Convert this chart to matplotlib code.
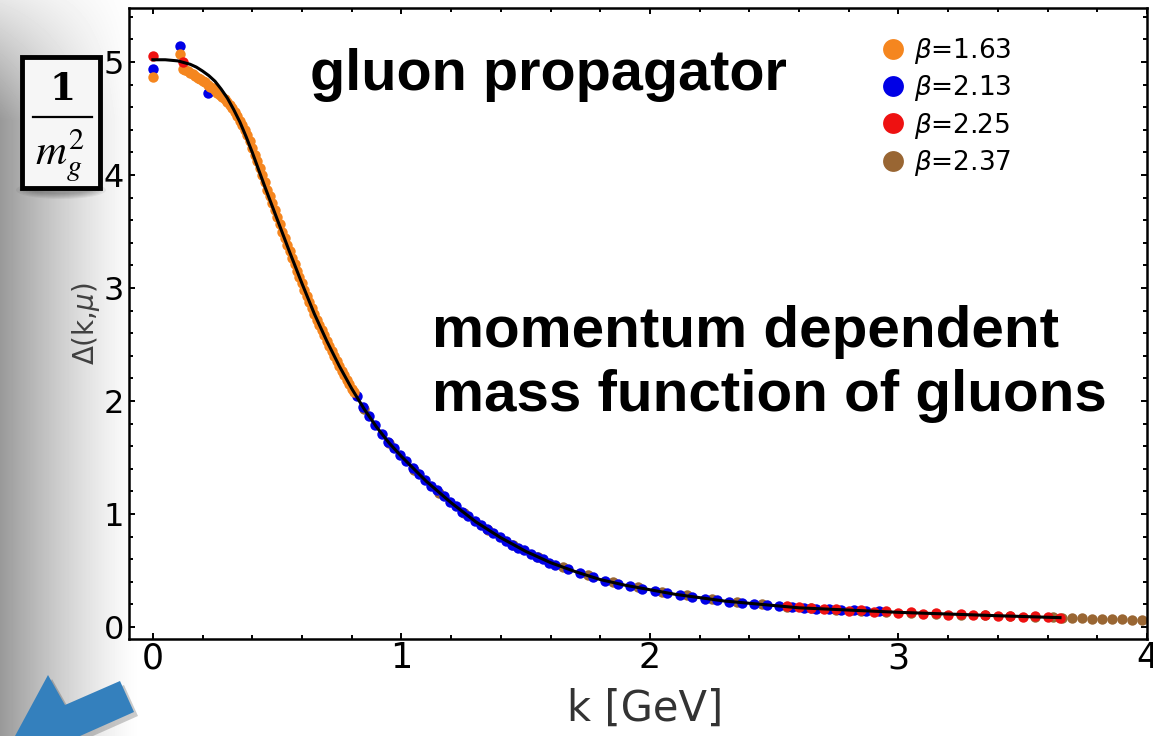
import numpy as np
import matplotlib
matplotlib.use("Agg")
import matplotlib.pyplot as plt
from matplotlib.patches import Rectangle, Polygon, Ellipse
from matplotlib.lines import Line2D
from matplotlib.ticker import MultipleLocator

plt.rcParams['font.family'] = ['DejaVu Sans']
plt.rcParams['mathtext.fontset'] = 'dejavusans'

# ---- fitted curve Delta(k) ----
k_fit = [0.00, 0.05, 0.10, 0.15, 0.175, 0.20, 0.225, 0.25, 0.275, 0.30, 0.325,
         0.35, 0.375, 0.40, 0.425, 0.45, 0.50, 0.55, 0.60, 0.65, 0.70, 0.75,
         0.80, 0.85, 0.90, 0.95, 1.00, 1.05, 1.10, 1.20, 1.30, 1.40, 1.50, 1.60,
         1.70, 1.80, 1.90, 2.00, 2.10, 2.20, 2.30, 2.40, 2.50, 2.60, 2.70, 2.80,
         2.90, 3.00, 3.20, 3.40, 3.65]
D_fit = [5.02, 5.02, 5.01, 4.98, 4.955, 4.92, 4.88, 4.83, 4.76, 4.68, 4.58,
         4.47, 4.34, 4.20, 4.05, 3.90, 3.61, 3.32, 3.04, 2.77, 2.53, 2.31,
         2.11, 1.93, 1.77, 1.63, 1.51, 1.40, 1.29, 1.10, 0.93, 0.79, 0.67, 0.57,
         0.49, 0.42, 0.37, 0.33, 0.29, 0.26, 0.23, 0.21, 0.19, 0.17, 0.16, 0.15,
         0.14, 0.13, 0.115, 0.10, 0.083]

# ---- lattice data, beta = 1.63 ----
k_163 = [0.00, 0.11,
         0.12, 0.13, 0.14, 0.15, 0.16, 0.17, 0.18, 0.19, 0.20, 0.21, 0.22, 0.23,
         0.24, 0.25, 0.26, 0.27, 0.28, 0.29, 0.30, 0.31, 0.32, 0.33, 0.34, 0.35,
         0.36, 0.37, 0.38, 0.39, 0.40, 0.41, 0.42, 0.43, 0.44, 0.45, 0.46, 0.47,
         0.48, 0.49, 0.50, 0.51, 0.52, 0.53, 0.54, 0.55, 0.56, 0.57, 0.58, 0.59,
         0.60, 0.61, 0.62, 0.63, 0.64, 0.65, 0.66, 0.67, 0.68, 0.69, 0.70, 0.71,
         0.72, 0.73, 0.74, 0.75, 0.76, 0.77, 0.78, 0.79, 0.80, 0.81]
D_163 = [4.87, 5.07,
         4.94, 4.93, 4.92, 4.90, 4.89, 4.88, 4.86, 4.85, 4.83, 4.82, 4.80, 4.78,
         4.77, 4.75, 4.73, 4.71, 4.69, 4.67, 4.65, 4.62, 4.59, 4.56, 4.52, 4.48,
         4.44, 4.40, 4.35, 4.30, 4.24, 4.18, 4.12, 4.06, 4.00, 3.94, 3.87, 3.81,
         3.75, 3.69, 3.63, 3.57, 3.50, 3.44, 3.38, 3.33, 3.27, 3.21, 3.15, 3.10,
         3.04, 2.98, 2.93, 2.88, 2.82, 2.77, 2.72, 2.67, 2.63, 2.58, 2.53, 2.49,
         2.44, 2.40, 2.35, 2.31, 2.27, 2.23, 2.19, 2.15, 2.11, 2.08]

# ---- beta = 2.13 ----
k_213 = [0.00, 0.11, 0.22,
         0.820, 0.845, 0.870, 0.895, 0.920, 0.945, 0.970, 0.995, 1.020, 1.045,
         1.070, 1.095, 1.120, 1.145, 1.170, 1.195, 1.220, 1.245, 1.270, 1.295,
         1.320, 1.345, 1.370, 1.395, 1.420, 1.445, 1.470, 1.495, 1.520, 1.545,
         1.570, 1.595, 1.620,
         1.67, 1.72, 1.77, 1.82, 1.87, 1.92, 1.97, 2.02, 2.07, 2.12, 2.17, 2.22,
         2.27, 2.32, 2.37, 2.42, 2.47, 2.52, 2.57, 2.62, 2.67, 2.72, 2.77, 2.82,
         2.87, 2.92]
D_213 = [4.94, 5.14, 4.73,
         2.04, 1.95, 1.87, 1.79, 1.71, 1.64, 1.58, 1.52, 1.47, 1.41,
         1.35, 1.30, 1.25, 1.21, 1.16, 1.11, 1.07, 1.02, 0.98, 0.94,
         0.90, 0.87, 0.83, 0.80, 0.76, 0.73, 0.70, 0.68, 0.65, 0.62,
         0.60, 0.57, 0.55,
         0.51, 0.48, 0.44, 0.41, 0.38, 0.36, 0.34, 0.32, 0.30, 0.28, 0.27, 0.25,
         0.24, 0.225, 0.215, 0.205, 0.195, 0.185, 0.178, 0.17, 0.163, 0.158, 0.152, 0.147,
         0.142, 0.138]

# ---- beta = 2.25 ----
k_225 = [0.00, 0.12,
         2.55, 2.60, 2.65, 2.70, 2.75, 2.80, 2.85, 2.90, 2.95, 3.00, 3.05, 3.10,
         3.15, 3.20, 3.25, 3.30, 3.35, 3.40, 3.45, 3.50, 3.55, 3.60, 3.65]
D_225 = [5.05, 5.00,
         0.19, 0.175, 0.17, 0.158, 0.16, 0.145, 0.15, 0.135, 0.14, 0.125, 0.13, 0.118,
         0.122, 0.11, 0.114, 0.104, 0.108, 0.098, 0.10, 0.092, 0.094, 0.086, 0.084]

# ---- beta = 2.37 ----
k_237 = [0.85, 0.95, 1.05, 1.15, 1.25, 1.35, 1.45, 1.55, 1.65, 1.75, 1.85, 1.95,
         2.05, 2.15, 2.25, 2.35, 2.45, 2.55, 2.65, 2.75, 2.85, 2.95, 3.05, 3.15,
         3.25, 3.35, 3.45, 3.55, 3.62, 3.66, 3.70, 3.74, 3.78, 3.82, 3.86, 3.90,
         3.94, 3.98]
D_237 = [1.93, 1.63, 1.39, 1.19, 1.01, 0.86, 0.73, 0.62, 0.53, 0.46, 0.40, 0.35,
         0.31, 0.28, 0.245, 0.22, 0.20, 0.18, 0.165, 0.155, 0.145, 0.135, 0.125, 0.118,
         0.11, 0.104, 0.098, 0.092, 0.088, 0.084, 0.080, 0.077, 0.074, 0.072, 0.069, 0.067,
         0.065, 0.063]

W, H = 1153, 736
fig = plt.figure(figsize=(W / 100, H / 100), dpi=100)

# slide background: grey shading along the left edge
bg = fig.add_axes([0, 0, 1, 1], zorder=0)
bg.set_xlim(0, W)
bg.set_ylim(H, 0)
bg.axis('off')
xx = np.arange(W)[None, :]
yy = np.arange(H)[:, None]
shade = 0.40 * np.clip(1 - xx / 140.0, 0, 1) ** 1.3
vfac = np.clip(0.25 + yy / 160.0, 0, 1)
grad = 1 - shade * vfac
bg.imshow(grad, cmap='gray', vmin=0, vmax=1, extent=[0, W, H, 0], aspect='auto')

# boxed 1/m_g^2 label
for i in range(6):
    bg.add_patch(Ellipse((61, 190), 90 - 6 * i, 18 - 2 * i, color='black',
                         alpha=0.05, lw=0))
bg.add_patch(Rectangle((22, 57), 78, 131, lw=3.5, edgecolor='black',
                       facecolor='#f6f6f6'))
bg.text(62, 100, '1', fontsize=27, family='DejaVu Serif', weight='bold',
        ha='center', va='baseline')
bg.add_line(Line2D([33, 92], [117, 117], color='black', lw=1.6))
bg.text(60, 165, r'$m_g^2$', fontsize=31, math_fontfamily='stix', ha='center',
        va='baseline')

# blue arrow in the corner
arrow = [(120, 681), (65, 705), (48, 675), (15, 736), (80, 736), (134, 712)]
bg.add_patch(Polygon([(x + 4, y + 4) for x, y in arrow], closed=True,
                     color='black', alpha=0.2, lw=0))
bg.add_patch(Polygon(arrow, closed=True, color='#3480bd', lw=0))

# main plot
ax = fig.add_axes([129 / W, 1 - 639 / H, 1018 / W, 631 / H], zorder=1)
ax.set_facecolor('white')

ms = 7.5
ax.plot(k_237, D_237, 'o', color='#996633', ms=ms, mec='none', zorder=2,
        label=r'$\beta$=2.37')
ax.plot(k_213, D_213, 'o', color='#0000e6', ms=ms, mec='none', zorder=3,
        label=r'$\beta$=2.13')
ax.plot(k_163, D_163, 'o', color='#f5861f', ms=ms, mec='none', zorder=4,
        label=r'$\beta$=1.63')
ax.plot(k_225, D_225, 'o', color='#ee1111', ms=ms, mec='none', zorder=4.5,
        label=r'$\beta$=2.25')
ax.plot(k_fit, D_fit, color='black', lw=2.2, zorder=5)

ax.set_xlim(-0.096, 4.0)
ax.set_ylim(-0.106, 5.478)
ax.xaxis.set_major_locator(MultipleLocator(1))
ax.xaxis.set_minor_locator(MultipleLocator(0.2))
ax.yaxis.set_major_locator(MultipleLocator(1))
ax.yaxis.set_minor_locator(MultipleLocator(0.2))
ax.tick_params(which='both', direction='in', top=True, right=True, width=1.4)
ax.tick_params(which='major', length=4.5)
ax.tick_params(which='minor', length=2.6)
ax.tick_params(axis='x', labelsize=25, pad=1.5)
ax.tick_params(axis='y', labelsize=23, pad=3.5)
for s in ax.spines.values():
    s.set_linewidth(1.8)

ax.set_xlabel('k [GeV]', fontsize=30, color='#333333')
ax.xaxis.set_label_coords(0.507, -0.078)
ax.set_ylabel(r'Δ(k,$\mu$)', fontsize=20, color='#404040')
ax.yaxis.set_label_coords(-0.027, 0.5)

h = ax.get_legend_handles_labels()[0]
order = [2, 1, 3, 0]
ax.legend([h[i] for i in order], [h[i].get_label() for i in order],
          loc='upper left', bbox_to_anchor=(0.740, 0.956), frameon=False,
          fontsize=19, markerscale=2.0, handlelength=0.8, handletextpad=0.4,
          labelspacing=0.28, borderpad=0, borderaxespad=0)

fig.text(310 / W, 1 - 90 / H, 'gluon propagator', fontsize=41.5,
         family='Liberation Sans', weight='bold', va='baseline')
fig.text(432 / W, 1 - 347 / H, 'momentum dependent', fontsize=42,
         family='Liberation Sans', weight='bold', va='baseline')
fig.text(432 / W, 1 - 411 / H, 'mass function of gluons', fontsize=42,
         family='Liberation Sans', weight='bold', va='baseline')

fig.savefig('out.png', dpi=100)
